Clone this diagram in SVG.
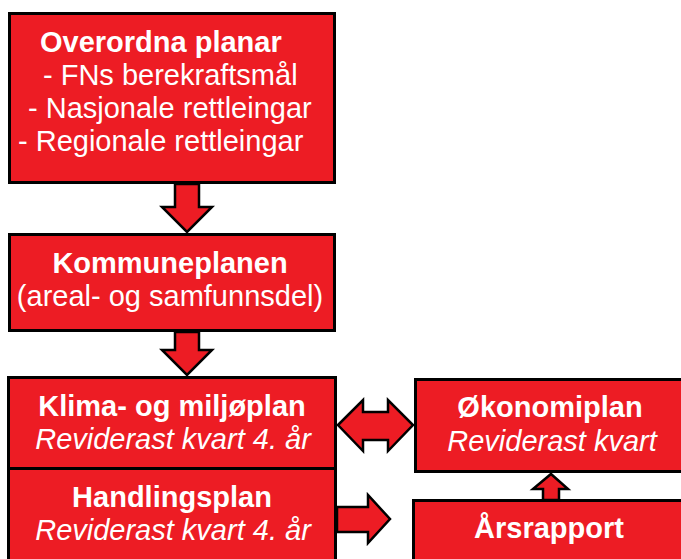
<svg xmlns="http://www.w3.org/2000/svg" width="681" height="559" viewBox="0 0 681 559">
<style>
.box{fill:#ED1C24;stroke:#000;stroke-width:3}
.arr{fill:#ED1C24;stroke:#000;stroke-width:2.5;stroke-linejoin:miter}
text{font-family:"Liberation Sans",Arial,sans-serif;font-size:29px;fill:#fff}
.b{font-weight:bold}
.i{font-style:italic}
.m{text-anchor:middle}
</style>
<rect width="681" height="559" fill="#fff"/>
<g id="connectors">
<polygon class="arr" points="175,184 199,184 199,207 212,207 187,232 162,207 175,207"/>
<polygon class="arr" points="175,332 199,332 199,350 212,350 187,375 162,350 175,350"/>
<polygon class="arr" points="338,425 363,400 363,412 388,412 388,400 413,425 388,451 388,440 363,440 363,451"/>
<polygon class="arr" points="337,507 368,507 368,495 390,519 368,543 368,532 337,532"/>
<polygon class="arr" points="551,474 568,489 559,489 559,500 543,500 543,489 533,489"/>
</g>
<g id="overordna">
<rect class="box" x="9.5" y="13.5" width="325" height="169"/>
<text class="b" x="40" y="52">Overordna planar</text>
<text x="43" y="85">- FNs berekraftsmål</text>
<text x="28" y="118">- Nasjonale rettleingar</text>
<text x="18" y="151">- Regionale rettleingar</text>
</g>
<g id="kommuneplanen">
<rect class="box" x="9.5" y="234.5" width="325" height="96"/>
<text class="b m" x="170" y="273">Kommuneplanen</text>
<text class="m" x="170" y="306">(areal- og samfunnsdel)</text>
</g>
<g id="klima">
<rect class="box" x="8.5" y="377.5" width="327" height="91"/>
<text class="b m" x="172" y="416">Klima- og miljøplan</text>
<text class="i m" x="173" y="449">Reviderast kvart 4. år</text>
</g>
<g id="handlingsplan">
<rect class="box" x="8.5" y="468.5" width="327" height="100"/>
<text class="b m" x="172" y="507">Handlingsplan</text>
<text class="i m" x="173" y="540">Reviderast kvart 4. år</text>
</g>
<g id="okonomiplan">
<rect class="box" x="415.5" y="379.5" width="272" height="92"/>
<text class="b m" x="550" y="417">Økonomiplan</text>
<text class="i m" x="552" y="451">Reviderast kvart</text>
</g>
<g id="arsrapport">
<rect class="box" x="413.5" y="500.5" width="274" height="70"/>
<text class="b m" x="549" y="538">Årsrapport</text>
</g>
</svg>
